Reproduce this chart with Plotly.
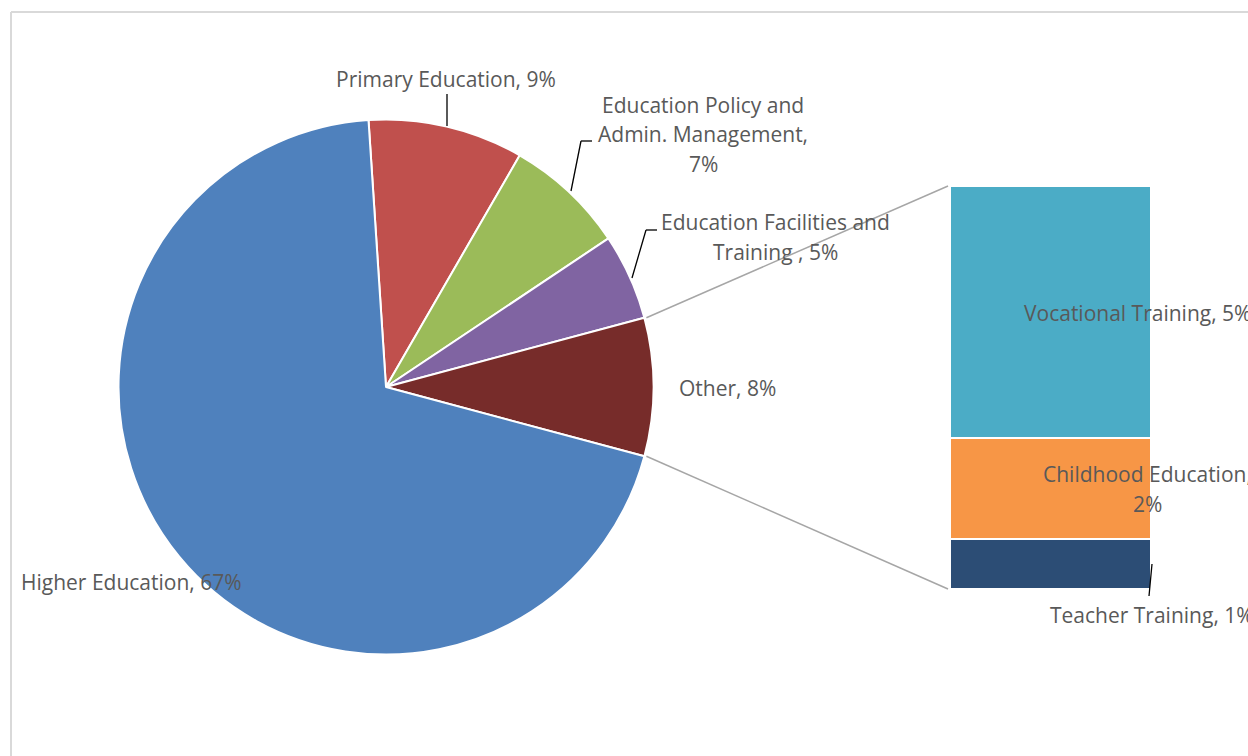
import math
import plotly.graph_objects as go

# ---------------- data ----------------
pie_labels = ["Primary Education", "Education Policy and Admin. Management",
              "Education Facilities and Training ", "Other", "Higher Education"]
pie_values = [9, 7, 5, 8, 67]
pie_colors = ["#C0504D", "#9BBB59", "#8064A2", "#772C2A", "#4F81BD"]

bar_labels = ["Teacher Training", "Childhood Education", "Vocational Training"]
bar_values = [1, 2, 5]
bar_colors = ["#2C4D75", "#F79646", "#4BACC6"]

W, H = 1248, 756
FONT = "Open Sans"
FS = 21
TXT = "#595959"
LINE = 29.5

# ---------------- geometry (window pixels) ----------------
cx, cy, R = 386, 387, 267.5
total = sum(pie_values)
other_idx = pie_labels.index("Other")
before = sum(pie_values[:other_idx])
# Excel-style: "Other" slice centred on 3 o'clock
rotation = 90 - (before + pie_values[other_idx] / 2) / total * 360

bar_x0, bar_x1 = 950, 1151
bar_ytop, bar_ybot = 186, 589


def px(x, y):
    return x / W, 1 - y / H


fig = go.Figure()

d0 = px(cx - R, cy + R)
d1 = px(cx + R, cy - R)
fig.add_trace(go.Pie(
    labels=pie_labels, values=pie_values, sort=False, direction="clockwise",
    rotation=rotation, textinfo="none", hoverinfo="label+percent",
    marker=dict(colors=pie_colors, line=dict(color="white", width=2)),
    domain=dict(x=[d0[0], d1[0]], y=[d0[1], d1[1]]),
    showlegend=False,
))

for lab, val, col in zip(bar_labels, bar_values, bar_colors):
    fig.add_trace(go.Bar(
        x=[0], y=[val], name=lab, width=1, marker=dict(color=col, line=dict(color="white", width=2)),
        xaxis="x", yaxis="y", showlegend=False,
    ))

bar_total = sum(bar_values)

shapes = []
# frame
f0 = px(11, 12)
shapes.append(dict(type="line", xref="paper", yref="paper", x0=f0[0], y0=f0[1], x1=1.02, y1=f0[1],
                   line=dict(color="#D9D9D9", width=2)))
shapes.append(dict(type="line", xref="paper", yref="paper", x0=f0[0], y0=f0[1], x1=f0[0], y1=-0.02,
                   line=dict(color="#D9D9D9", width=2)))

# connector lines from the Other slice to the bar
a0 = math.radians(rotation + before / total * 360)
a1 = math.radians(rotation + (before + pie_values[other_idx]) / total * 360)
for a, by in ((a0, bar_ytop), (a1, bar_ybot)):
    sx, sy = cx + R * math.sin(a), cy - R * math.cos(a)
    x0p, y0p = px(sx + 2, sy)
    x1p, y1p = px(bar_x0 - 2, by)
    shapes.append(dict(type="line", xref="paper", yref="paper", x0=x0p, y0=y0p, x1=x1p, y1=y1p,
                       line=dict(color="#A6A6A6", width=1.5)))

# leader lines
leaders = [
    [(447, 94), (447, 126)],
    [(592, 141), (581, 141), (571, 191)],
    [(657, 230), (646, 230), (632, 278)],
    [(1152, 564), (1149, 596)],
]
for pts in leaders:
    for (xa, ya), (xb, yb) in zip(pts[:-1], pts[1:]):
        p0 = px(xa, ya)
        p1 = px(xb, yb)
        shapes.append(dict(type="line", xref="paper", yref="paper", x0=p0[0], y0=p0[1], x1=p1[0], y1=p1[1],
                           line=dict(color="black", width=1.3)))

annotations = []


def ann(lines, x, y, xanchor="center"):
    n = len(lines)
    for i, t in enumerate(lines):
        yy = y + (i - (n - 1) / 2) * LINE
        xp, yp = px(x, yy)
        annotations.append(dict(text=t, x=xp, y=yp, xref="paper", yref="paper", xanchor=xanchor,
                                yanchor="middle", align="center", showarrow=False,
                                font=dict(family=FONT, size=FS, color=TXT)))


ann([f"{pie_labels[0]}, {pie_values[0]}%"], 446, 79)
ann(["Education Policy and", "Admin. Management,", f"{pie_values[1]}%"], 703, 134)
ann(["Education Facilities and", f"Training , {pie_values[2]}%"], 775, 237)
ann([f"{pie_labels[3]}, {pie_values[3]}%"], 727, 388)
ann([f"{pie_labels[4]}, {pie_values[4]}%"], 19, 582, xanchor="left")

ann([f"{bar_labels[2]}, {bar_values[2]}%"], 1022, 313, xanchor="left")
ann([f"{bar_labels[1]},", f"{bar_values[1]}%"], 1147, 489)
ann([f"{bar_labels[0]}, {bar_values[0]}%"], 1048, 615, xanchor="left")

bx0 = px(bar_x0, bar_ybot)
bx1 = px(bar_x1, bar_ytop)
fig.update_layout(
    width=W, height=H, margin=dict(l=0, r=0, t=0, b=0),
    paper_bgcolor="white", plot_bgcolor="rgba(0,0,0,0)",
    barmode="stack", bargap=0,
    xaxis=dict(domain=[bx0[0], bx1[0]], range=[-0.5, 0.5], visible=False, fixedrange=True),
    yaxis=dict(domain=[bx0[1], bx1[1]], range=[0, bar_total], visible=False, fixedrange=True),
    shapes=shapes, annotations=annotations,
    font=dict(family=FONT, color=TXT),
)

fig.write_html(
    "out.html",
    config={"displayModeBar": False},
    post_script="document.body.style.margin='0';document.body.style.overflow='hidden';",
)
